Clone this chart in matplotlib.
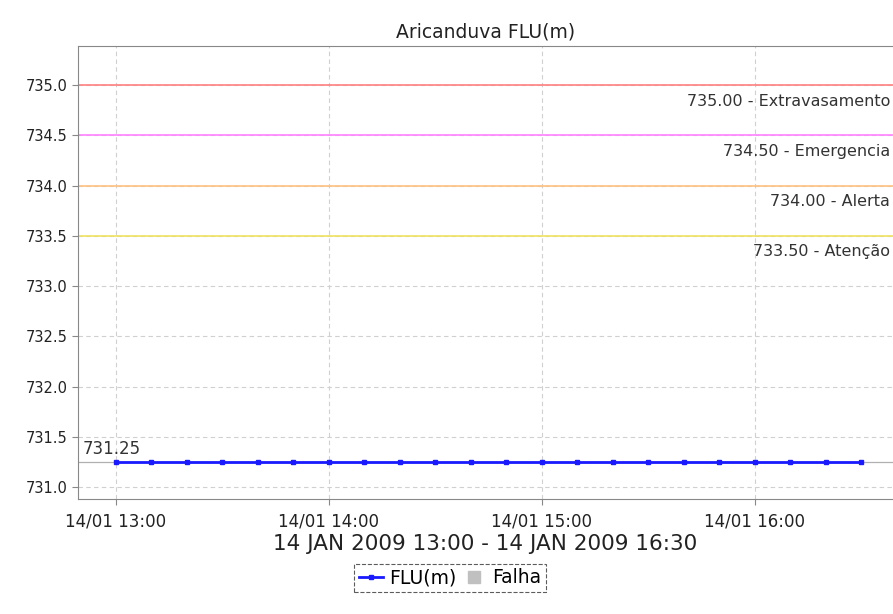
import pandas as pd
import matplotlib
matplotlib.use("Agg")
import matplotlib.pyplot as plt
import matplotlib.dates as mdates
from matplotlib.lines import Line2D

# readings every 10 minutes
times = ["13:00", "13:10", "13:20", "13:30", "13:40", "13:50",
         "14:00", "14:10", "14:20", "14:30", "14:40", "14:50",
         "15:00", "15:10", "15:20", "15:30", "15:40", "15:50",
         "16:00", "16:10", "16:20", "16:30"]
flu = [731.25, 731.25, 731.25, 731.25, 731.25, 731.25,
       731.25, 731.25, 731.25, 731.25, 731.25, 731.25,
       731.25, 731.25, 731.25, 731.25, 731.25, 731.25,
       731.25, 731.25, 731.25, 731.25]

# alert thresholds
limits = [735.0, 734.5, 734.0, 733.5]
limit_names = ["Extravasamento", "Emergencia", "Alerta", "Atenção"]
limit_colors = ["#ff8080", "#ff80ff", "#ffc080", "#f0e060"]

x = pd.to_datetime(["2009-01-14 " + t for t in times])

fig = plt.figure(figsize=(8.93, 6.14), dpi=100)
ax = fig.add_axes([0.0873, 0.1873, 0.9127, 0.7377])

for val, name, col in zip(limits, limit_names, limit_colors):
    ax.axhline(val, color=col, lw=1.2, zorder=2)
    ax.annotate(f"{val:.2f} - {name}", xy=(1.0, val), xycoords=("axes fraction", "data"),
                xytext=(-2, -6), textcoords="offset points", ha="right", va="top",
                fontsize=11.5, color="#333333")

# last value marker
ax.axhline(flu[-1], color="#b0b0b0", lw=0.9, zorder=2)
ax.annotate(f"{flu[-1]:.2f}", xy=(0.0, flu[-1]), xycoords=("axes fraction", "data"),
            xytext=(3, 3), textcoords="offset points", ha="left", va="bottom",
            fontsize=12, color="#333333")

ax.plot(x, flu, color="#1a1aff", lw=2, marker="s", ms=3.5, zorder=3)

ax.set_xlim(pd.Timestamp("2009-01-14 12:49:18"), pd.Timestamp("2009-01-14 16:38:54"))
ax.set_ylim(730.88, 735.39)
ax.set_yticks([731.0, 731.5, 732.0, 732.5, 733.0, 733.5, 734.0, 734.5, 735.0])
ax.yaxis.set_major_formatter(matplotlib.ticker.FormatStrFormatter("%.1f"))
ax.xaxis.set_major_locator(mdates.HourLocator())
ax.xaxis.set_major_formatter(mdates.DateFormatter("%d/%m %H:%M"))

ax.grid(True, color="#d0d0d0", ls=(0, (4, 3)), lw=0.8, zorder=0)
for side in ["top", "left", "bottom"]:
    ax.spines[side].set_color("#888888")
ax.spines["right"].set_visible(False)
ax.tick_params(axis="y", labelsize=10.5, colors="#222222", length=4, direction="out")
ax.tick_params(axis="x", labelsize=12, colors="#222222", length=4, direction="out", pad=6)
ax.tick_params(axis="both", color="#888888")

ax.set_title("Aricanduva FLU(m)", fontsize=13.5, color="#222222", pad=6)
ax.set_xlabel("14 JAN 2009 13:00 - 14 JAN 2009 16:30", fontsize=15.5, color="#222222", labelpad=2)

handles = [Line2D([], [], color="#1a1aff", lw=2, marker="s", ms=3),
           Line2D([], [], color="#c0c0c0", lw=0, marker="s", ms=8)]
leg = fig.legend(handles, ["FLU(m)", "Falha"], loc="center", bbox_to_anchor=(0.504, 0.059),
                 ncol=2, fontsize=13.5, frameon=True, fancybox=False, handlelength=1.3,
                 handletextpad=0.3, columnspacing=0.3, borderpad=0.25, borderaxespad=0)
leg.get_frame().set_edgecolor("#333333")
leg.get_frame().set_linestyle("--")
leg.get_frame().set_linewidth(0.8)

fig.savefig("out.png", dpi=100)
